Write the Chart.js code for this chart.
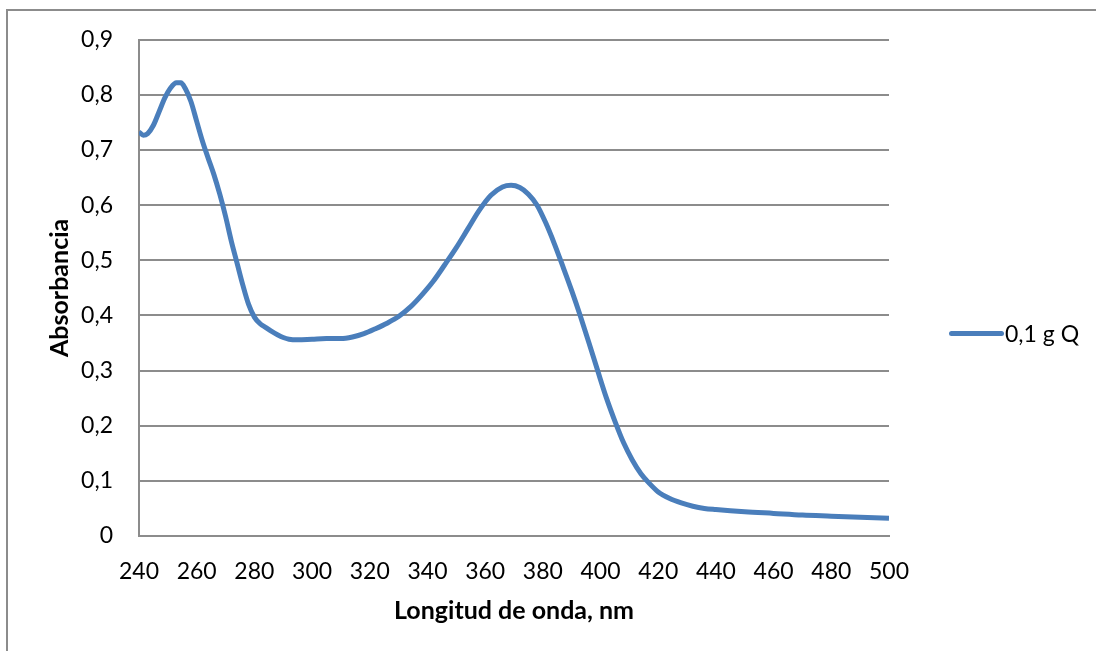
<!DOCTYPE html>
<html>
<head>
<meta charset="utf-8">
<script src="https://cdn.jsdelivr.net/npm/chart.js@4"></script>
<style>
  html, body { margin:0; padding:0; background:#fff; }
  #wrap { position:relative; width:1096px; height:651px; overflow:hidden; font-family:Lato, sans-serif; }
  #frame { position:absolute; left:6px; top:9px; width:1200px; height:800px; border-left:2px solid #8c8c8c; border-top:2px solid #8c8c8c; }
  #legend { position:absolute; left:949px; top:319px; display:flex; align-items:center; }
  #legend .swatch { width:55px; height:5px; border-radius:3px; background:#4a7ebb; }
  #legend span { font-size:23px; color:#000; margin-left:1px; }
</style>
</head>
<body>
<div id="wrap">
  <div id="frame"></div>
  <canvas id="chart" width="1096" height="651"></canvas>
  <div id="legend"><div class="swatch"></div><span>0,1 g Q</span></div>
</div>
<script>
// Spectrum
const wavelengths = [240, 241.5, 243, 245, 247, 249, 251, 253, 254.5, 256, 258, 260, 262, 264, 266, 268, 270, 272, 274, 276,
  278, 280, 282, 284, 286, 288, 290, 292, 295, 300, 305, 310, 314, 318, 322, 326, 330, 334, 338, 342,
  346, 350, 354, 358, 362, 366, 369, 372, 375, 378, 381, 384, 387, 390, 393, 396, 399, 402, 405, 408,
  411, 414, 417, 420, 424, 428, 432, 436, 440, 450, 460, 470, 480, 490, 500];
const absorbance = [0.733, 0.727, 0.730, 0.745, 0.770, 0.795, 0.813, 0.822, 0.822, 0.812, 0.788, 0.752, 0.716, 0.685, 0.655, 0.620, 0.580, 0.535, 0.495, 0.455,
  0.420, 0.397, 0.385, 0.378, 0.371, 0.365, 0.360, 0.357, 0.356, 0.357, 0.358, 0.358, 0.361, 0.367, 0.376, 0.386, 0.398, 0.415, 0.437, 0.462,
  0.492, 0.523, 0.557, 0.591, 0.618, 0.633, 0.636, 0.632, 0.620, 0.600, 0.568, 0.530, 0.488, 0.445, 0.399, 0.350, 0.300, 0.251, 0.208, 0.169,
  0.138, 0.113, 0.095, 0.080, 0.068, 0.060, 0.054, 0.050, 0.048, 0.044, 0.041, 0.038, 0.036, 0.034, 0.032];
const seriesName = '0,1 g Q';
const xTitle = 'Longitud de onda, nm';
const yTitle = 'Absorbancia';

const gridColor = '#8c8c8c';

new Chart(document.getElementById('chart'), {
  type: 'line',
  data: {
    datasets: [{
      label: seriesName,
      data: wavelengths.map((w, i) => ({ x: w, y: absorbance[i] })),
      borderColor: '#4a7ebb',
      backgroundColor: '#4a7ebb',
      borderWidth: 5,
      pointRadius: 0,
      tension: 0.4,
      cubicInterpolationMode: 'monotone',
      fill: false
    }]
  },
  options: {
    responsive: false,
    animation: false,
    layout: { padding: { left: 0, top: 39, right: 207, bottom: 0 } },
    plugins: { legend: { display: false }, tooltip: { enabled: false } },
    scales: {
      x: {
        type: 'linear', min: 240, max: 500,
        ticks: { stepSize: 20, color: '#000', padding: 22, font: { family: 'Lato', size: 23 } },
        grid: { display: false, drawTicks: false },
        border: { display: true, color: gridColor, width: 2 },
        title: { display: true, text: xTitle, color: '#000', font: { family: 'Lato', size: 25, weight: 'bold' }, padding: { bottom: 25 } },
        afterFit: s => { s.height = 115; }
      },
      y: {
        min: 0, max: 0.9,
        ticks: {
          stepSize: 0.1, color: '#000', padding: 26, font: { family: 'Lato', size: 23 },
          callback: v => v === 0 ? '0' : v.toFixed(1).replace('.', ',')
        },
        grid: { color: gridColor, lineWidth: 2, drawTicks: false },
        border: { display: true, color: gridColor, width: 2 },
        title: { display: true, text: yTitle, color: '#000', font: { family: 'Lato', size: 25, weight: 'bold' }, padding: { top: 45 } },
        afterFit: s => { s.width = 139; }
      }
    }
  }
});
</script>
</body>
</html>
